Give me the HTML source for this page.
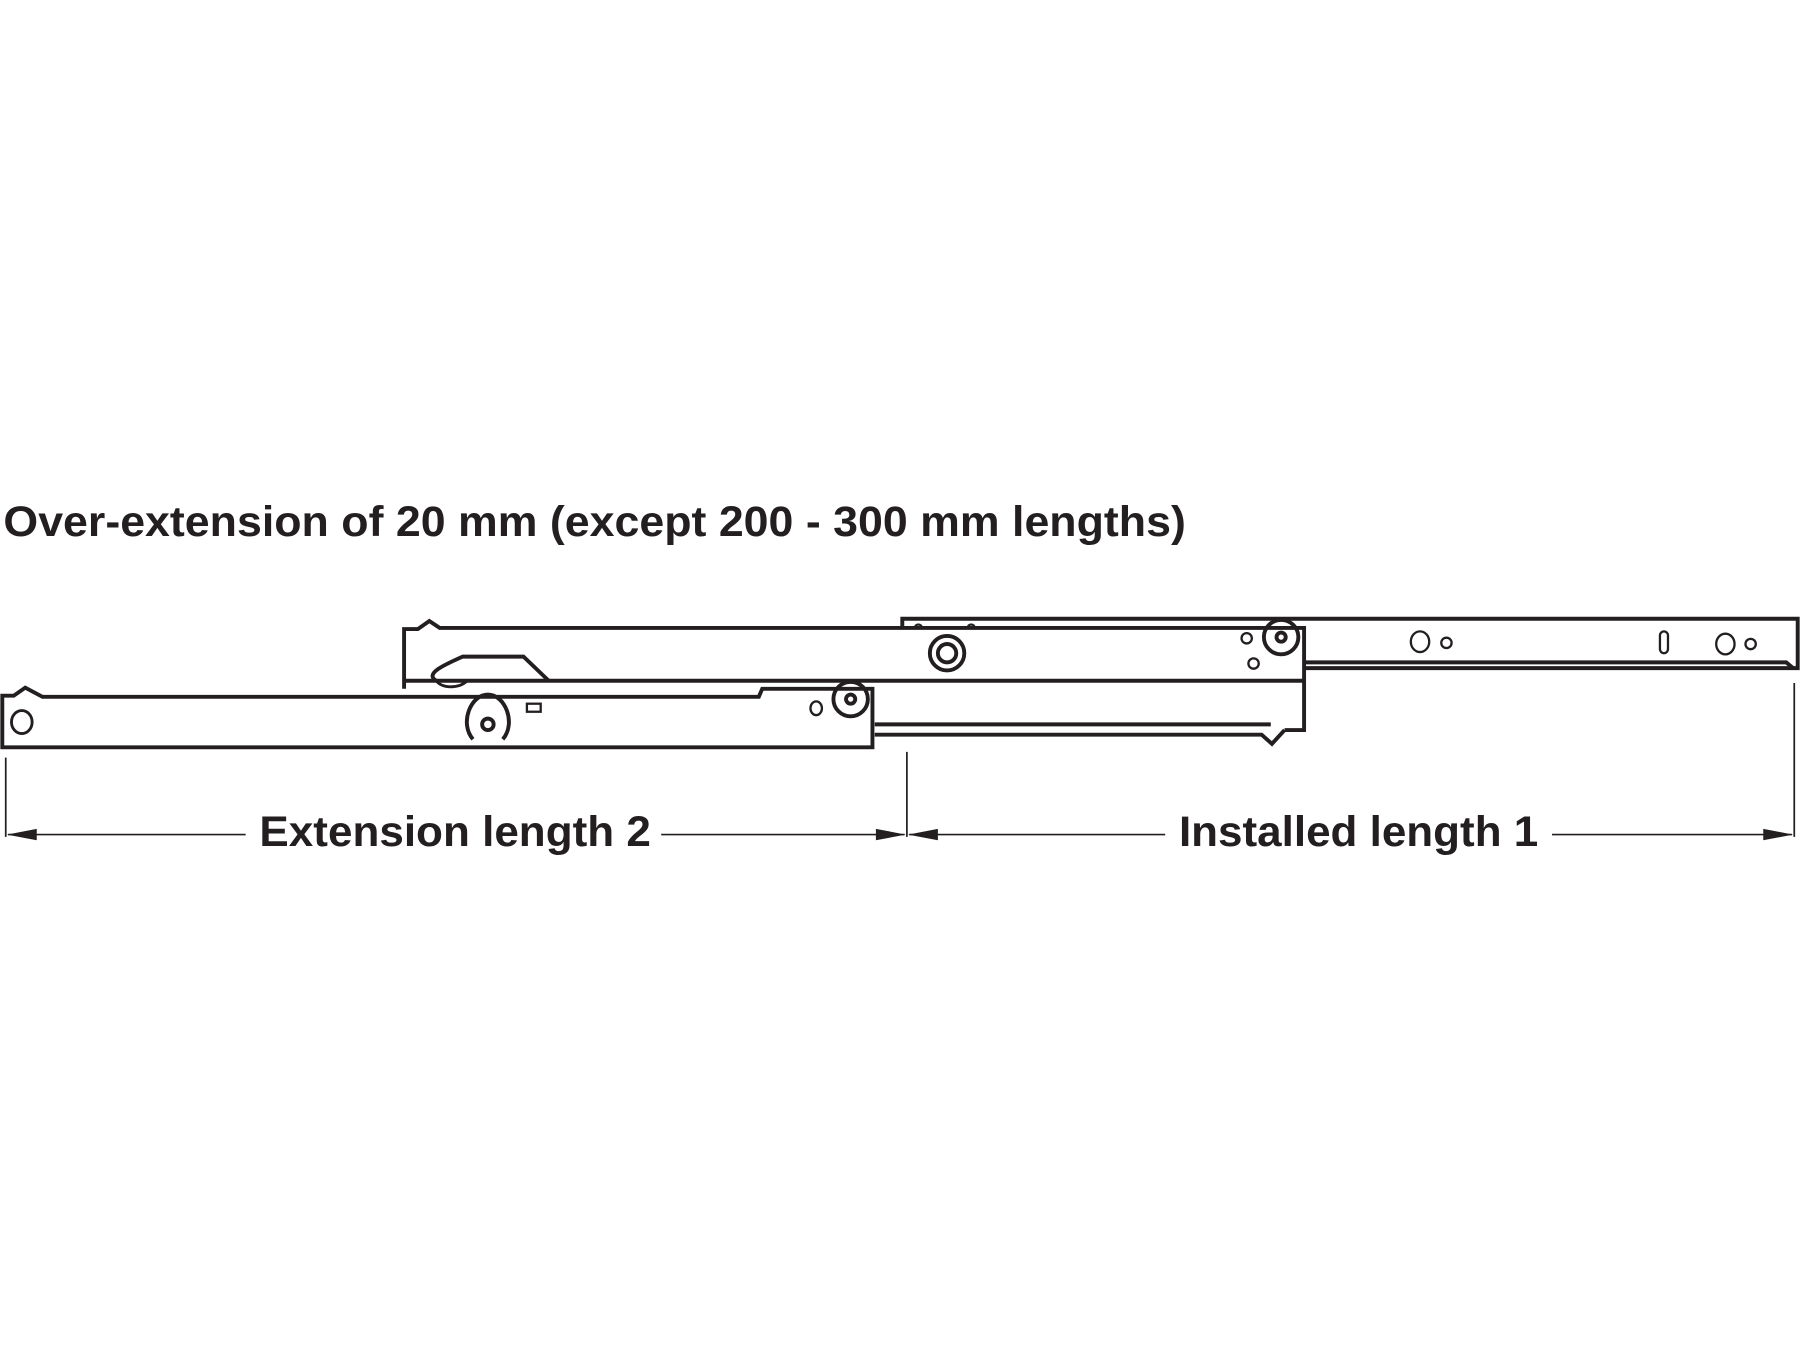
<!DOCTYPE html>
<html><head><style>html,body{margin:0;padding:0;background:#fff}svg{display:block}</style></head><body>
<svg width="1800" height="1350" viewBox="0 0 1568 1176" xmlns="http://www.w3.org/2000/svg">
<rect width="1568" height="1176" fill="#fff"/>
<text x="3" y="467" textLength="1030" lengthAdjust="spacingAndGlyphs" font-family="Liberation Sans, sans-serif" font-weight="bold" font-size="37" fill="#231f20">Over-extension of 20 mm (except 200 - 300 mm lengths)</text>
<g fill="none" stroke="#231f20" stroke-width="3.4" stroke-linejoin="miter">
<!-- top rail -->
<path d="M786 546 V539 H1566 V582 H1137"/>
<path d="M1137 577 H1556 L1562 582"/>
<path d="M797 547 a3 3 0 0 1 6 0 M843 547 a3 3 0 0 1 6 0" stroke-width="2"/>
<ellipse cx="1237" cy="559" rx="8" ry="9" stroke-width="2"/>
<circle cx="1260" cy="560" r="4.5" stroke-width="2"/>
<rect x="1446" y="550" width="7" height="19" rx="3.5" stroke-width="2"/>
<ellipse cx="1503" cy="561" rx="8" ry="9" stroke-width="2"/>
<circle cx="1525" cy="561" r="4.5" stroke-width="2"/>
<!-- middle rail -->
<path d="M352 600 V548 H364 L374 541 L383 547 H1136 V636 H1119"/>
<path d="M352 593 H1136"/>
<path d="M762 631 H1107 M762 640 H1099 L1108 648 L1119 636"/>
<path d="M380 593 C370 587 385 580 403 572 H456 L478 593"/>
<path d="M380 593 C385 600 400 600 407 593" stroke-width="2.5"/>
<circle cx="825" cy="569" r="15"/><circle cx="825" cy="569" r="8"/>
<circle cx="1116" cy="555" r="15"/><circle cx="1116" cy="555" r="4"/>
<circle cx="1086" cy="556" r="4.5" stroke-width="2"/>
<circle cx="1092" cy="578" r="4.5" stroke-width="2"/>
<!-- front rail -->
<path d="M2 651 V606 H12 L22 599 L37 607 H661 L664 600 H760 V651 Z"/>
<ellipse cx="19" cy="629" rx="9" ry="10" stroke-width="2.5"/>
<path d="M412 644 C400 630 410 605 425 605 C440 605 450 630 438 644"/>
<circle cx="425" cy="631" r="5"/>
<rect x="459" y="613" width="12" height="7" stroke-width="2"/>
<ellipse cx="711" cy="617" rx="5" ry="6" stroke-width="2"/>
<circle cx="741" cy="609" r="15"/><circle cx="741" cy="609" r="4"/>
</g>
<!-- dimension -->
<g stroke="#231f20" stroke-width="1.5" fill="none">
<path d="M5 660 V729 M790 655 V729 M1563 595 V729"/>
<path d="M7 727 H214 M576 727 H788 M792 727 H1015 M1352 727 H1561"/>
</g>
<g fill="#231f20">
<path d="M6 727 L32 722 L32 732 Z"/><path d="M789 727 L763 722 L763 732 Z"/>
<path d="M791 727 L817 722 L817 732 Z"/><path d="M1562 727 L1536 722 L1536 732 Z"/>
</g>
<text x="226" y="737" textLength="341" lengthAdjust="spacingAndGlyphs" font-family="Liberation Sans, sans-serif" font-weight="bold" font-size="37" fill="#231f20">Extension length 2</text>
<text x="1027" y="737" textLength="313" lengthAdjust="spacingAndGlyphs" font-family="Liberation Sans, sans-serif" font-weight="bold" font-size="37" fill="#231f20">Installed length 1</text>
</svg>
</body></html>
